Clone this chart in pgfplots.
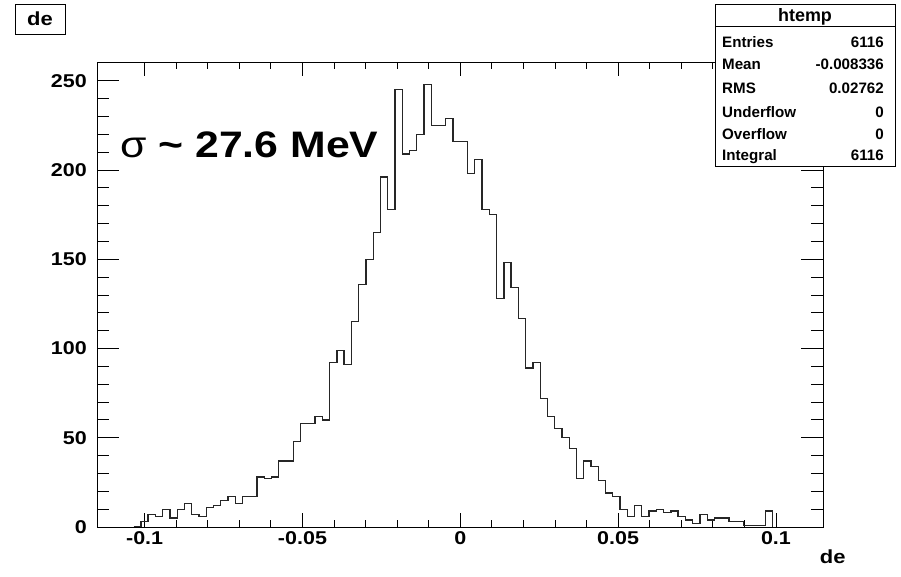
\documentclass[border=0pt]{standalone}
\usepackage{pgfplots}
\pgfplotsset{compat=1.18}
\usepackage{pgfplotstable}
\usepackage{fontspec}
\setmainfont{Liberation Sans}
\newfontfamily\wide{Liberation Sans}[FakeStretch=1.16]
\pgfplotstableread{
bin n
0 0
1 0
2 0
3 0
4 0
5 0
6 3
7 7
8 6
9 10
10 5
11 10
12 13
13 7
14 6
15 11
16 12
17 15
18 17
19 13
20 17
21 17
22 28
23 27
24 28
25 37
26 37
27 48
28 58
29 58
30 62
31 60
32 92
33 99
34 91
35 115
36 136
37 150
38 165
39 196
40 178
41 245
42 209
43 211
44 220
45 248
46 225
47 225
48 229
49 216
50 216
51 198
52 206
53 178
54 175
55 128
56 148
57 134
58 117
59 89
60 92
61 72
62 62
63 55
64 50
65 44
66 27
67 37
68 34
69 26
70 19
71 17
72 10
73 6
74 12
75 6
76 9
77 10
78 8
79 9
80 6
81 4
82 2
83 7
84 4
85 5
86 5
87 3
88 3
89 1
90 1
91 1
92 9
93 0
94 0
95 0
96 0
97 0
98 0
99 0
100 0
}\histdata
\newcommand{\lbl}{\fontsize{18.6}{18.6}\wide\bfseries}
\newcommand{\stat}{\fontsize{15.2}{15.2}\selectfont\bfseries}
\begin{document}
\begin{tikzpicture}[x=1bp,y=1bp]
\path[use as bounding box] (0,0) rectangle (901,-577);
% histogram + x ticks
\begin{axis}[at={(97.3bp,-527bp)}, anchor=south west, scale only axis,
  width=726bp, height=465bp,
  xmin=-0.115, xmax=0.115, ymin=0, ymax=260.5,
  ytick=\empty,
  xtick={-0.1,-0.05,0,0.05,0.1},
  xticklabels={-0.1,-0.05,0,0.05,0.1},
  minor x tick num=4,
  tick align=inside,
  major tick length=14bp, minor tick length=7bp,
  axis line style={line width=0.9bp},
  every tick/.style={black, line width=0.9bp},
  xticklabel style={font=\lbl, yshift=-1bp},
  clip=false]
\addplot[const plot mark left, line width=1.3bp, black!85, mark=none,
  skip coords between index={0}{5}, skip coords between index={94}{101}]
  table[x expr={-0.115+0.0023*\thisrow{bin}}, y=n]{\histdata};
\end{axis}
% y ticks
\begin{axis}[at={(97.3bp,-527bp)}, anchor=south west, scale only axis,
  width=726bp, height=465bp,
  xmin=-0.115, xmax=0.115, ymin=0, ymax=260.5,
  xtick=\empty,
  ytick={0,50,100,150,200,250},
  yticklabels={0,50,100,150,200,250},
  minor y tick num=4,
  tick align=inside,
  major tick length=22bp, minor tick length=12bp,
  axis line style={line width=0.9bp},
  every tick/.style={black, line width=0.9bp},
  yticklabel style={font=\lbl, xshift=-7bp}]
\end{axis}
% x axis title
\node[anchor=east, font=\fontsize{19}{19}\wide\bfseries] at (849,-557) {de};
% title box
\draw[line width=1bp, fill=white] (15,-5) rectangle (65,-35);
\node[font=\fontsize{19}{19}\wide\bfseries] at (40,-19) {de};
% sigma text
\node[anchor=base west, inner sep=0pt, font=\fontsize{37}{37}\wide\bfseries] at (120,-158) {{\mdseries σ} \textasciitilde{} 27.6 MeV};
% stats box
\draw[line width=1bp, fill=white] (715,-5) rectangle (895,-167);
\draw[line width=1bp] (715,-27) -- (895,-27);
\node[anchor=base, inner sep=0pt, font=\fontsize{18}{18}\selectfont\bfseries] at (805,-22) {htemp};
\foreach \y/\a/\b in {42/Entries/6116, 64/Mean/-0.008336, 88/RMS/0.02762, 112/Underflow/0, 134/Overflow/0, 155/Integral/6116}{
  \node[anchor=base west, font=\stat, inner sep=0pt] at (722,-\y-5.3) {\a};
  \node[anchor=base east, font=\stat, inner sep=0pt] at (884,-\y-5.3) {\b};
}
\end{tikzpicture}
\end{document}
